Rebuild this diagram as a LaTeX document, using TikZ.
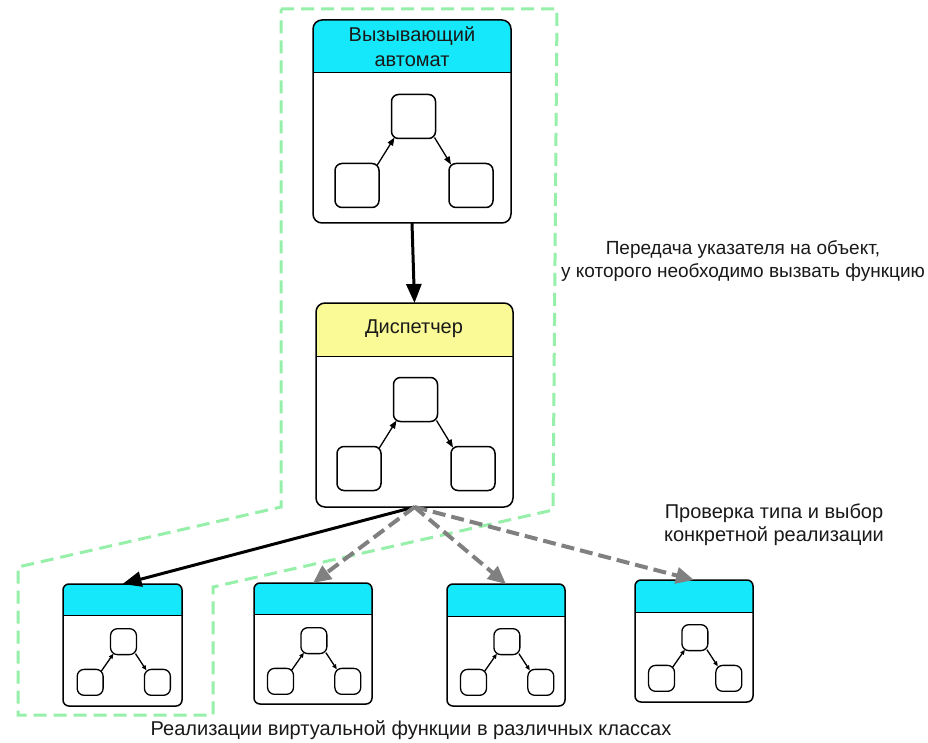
\documentclass[tikz,border=0pt]{standalone}
\usepackage{fontspec}
\setmainfont{Liberation Sans}
\usetikzlibrary{arrows.meta}
\definecolor{hdrcyan}{RGB}{20,232,250}
\definecolor{hdryel}{RGB}{250,250,150}
\definecolor{dashgreen}{RGB}{150,240,170}
\definecolor{arrgray}{RGB}{128,128,128}
\definecolor{txt}{RGB}{25,25,25}
\tikzset{
  mini/.style={draw, rounded corners=7pt, minimum size=44pt, inner sep=0pt, outer sep=0pt, transform shape},
  lbl/.style={text=txt, align=center, inner sep=0pt},
  outline/.style={draw=dashgreen, line width=3pt, dash pattern=on 13pt off 7pt},
  mainarr/.style={line width=3pt, -{Triangle[length=19pt,width=15pt]}},
  grayarr/.style={draw=arrgray, line width=4pt, dash pattern=on 13pt off 6pt, -{Triangle[length=18pt,width=16pt]}},
}
% name, x1, y1, x2, y2, header bottom, colour, radius
\newcommand\stbox[8]{%
  \path[fill=white, rounded corners=#8pt] (#2,#3) rectangle (#4,#5);
  \path[fill=#7] (#2,#6) [rounded corners=#8pt] -- (#2,#3) -- (#4,#3) [sharp corners] -- (#4,#6) -- cycle;
  \draw[line width=1pt] (#2,#6) -- (#4,#6);
  \pgfmathsetmacro\bw{#4-#2}\pgfmathsetmacro\bh{#5-#3}%
  \node[draw, line width=1.5pt, rounded corners=#8pt, minimum width=\bw pt, minimum height=\bh pt, inner sep=0pt, outer sep=0pt] (#1) at ({(#2+#4)/2},{(#3+#5)/2}) {};
}
% prefix, cx, cy, scale, line width, tip length, tip width
\newcommand\minidiag[7]{%
  \begin{scope}[shift={(#2,#3)}, scale=#4]
    \node[mini, line width=#5pt] (#1t) at (1.5,-34.5) {};
    \node[mini, line width=#5pt] (#1l) at (-55,34.5) {};
    \node[mini, line width=#5pt] (#1r) at (59,34.5) {};
  \end{scope}
  \draw[line width=1.3pt, -{Triangle[length=#6pt,width=#7pt]}] ([shift={(-2pt,-2pt)}]#1l.north east) -- ([shift={(3pt,1pt)}]#1t.south west);
  \draw[line width=1.3pt, -{Triangle[length=#6pt,width=#7pt]}] ([shift={(-1pt,1pt)}]#1t.south east) -- ([shift={(2pt,-1pt)}]#1r.north west);
}
\begin{document}
\begin{tikzpicture}[x=1pt, y=-1pt]
\path[fill=white, use as bounding box] (0,0) rectangle (928,743);

% dashed outline
\draw[outline] (281,9) -- (557,9) -- (553,510) -- (213,587) -- (213,715) -- (18,715) -- (18,567) -- (281,507) -- cycle;

% caller automaton
\stbox{A}{313}{20}{511}{223}{73}{hdrcyan}{9}
\node[lbl, font=\fontsize{20}{25}\selectfont] (At) at (412,47) {Вызывающий\\автомат};
\minidiag{a}{412}{151}{1}{1.5}{8}{6}

% dispatcher
\stbox{D}{316}{303}{513}{507}{356}{hdryel}{9}
\node[lbl, font=\fontsize{20}{25}\selectfont] (Dt) at (414,329) {Диспетчер};
\minidiag{d}{414}{434}{1}{1.5}{8}{6}

% implementations
\stbox{B1}{63}{584}{182}{706}{615}{hdrcyan}{6}
\minidiag{ba}{122.6}{662}{0.59}{1.3}{5}{4}
\stbox{B2}{254}{583}{372}{704}{614}{hdrcyan}{6}
\minidiag{bb}{313}{661}{0.59}{1.3}{5}{4}
\stbox{B3}{447}{584}{565}{706}{616}{hdrcyan}{6}
\minidiag{bc}{506}{662}{0.59}{1.3}{5}{4}
\stbox{B4}{635}{580}{753}{702}{612}{hdrcyan}{6}
\minidiag{bd}{694}{658}{0.59}{1.3}{5}{4}

% connectors
\draw[mainarr] (A.south) -- (D.north);
\draw[mainarr] (D.south) -- (B1.north);
\draw[grayarr] (D.south) -- (B2.north);
\draw[grayarr] (D.south) -- (B3.north);
\draw[grayarr] (D.south) -- (B4.north);

% labels
\node[lbl, font=\fontsize{19}{23}\selectfont] (L1) at (743,261) {Передача указателя на объект,\\у которого необходимо вызвать функцию};
\node[lbl, font=\fontsize{20}{23}\selectfont] (L2) at (774,525) {Проверка типа и выбор\\конкретной реализации};
\node[lbl, font=\fontsize{20}{24}\selectfont] (L3) at (411,730) {Реализации виртуальной функции в различных классах};
\end{tikzpicture}
\end{document}
